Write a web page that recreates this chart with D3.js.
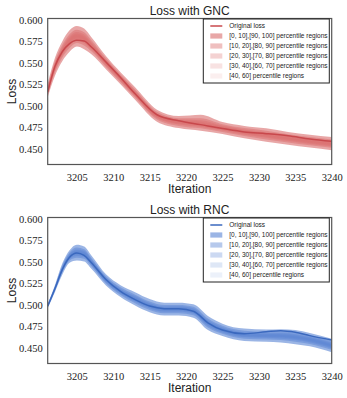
<!DOCTYPE html>
<html>
<head>
<meta charset="utf-8">
<script src="https://cdn.jsdelivr.net/npm/d3@7"></script>
<style>
  html, body { margin: 0; padding: 0; background: #fff; }
  svg { display: block; }
</style>
</head>
<body>
<div id="chart"></div>
<script>
// ---------------- data ----------------
const gncIter = [3201,3202,3203,3204,3205,3206,3207,3209,3211,3213,3216,3219,3222,3225,3228,3231,3234,3237,3240];
const gncLoss = [0.516,0.546,0.563,0.5725,0.5765,0.5755,0.5685,0.551,0.533,0.514,0.4895,0.4825,0.478,0.4735,0.4695,0.4675,0.465,0.4613,0.4585];
const gncP0   = [0.5100,0.5350,0.5520,0.5630,0.5690,0.5660,0.5600,0.5425,0.5250,0.5070,0.4815,0.4740,0.4710,0.4670,0.4620,0.4580,0.4545,0.4512,0.4482];
const gncP10  = [0.5129,0.5388,0.5561,0.5675,0.5733,0.5703,0.5636,0.5453,0.5275,0.5096,0.4840,0.4765,0.4737,0.4695,0.4646,0.4608,0.4572,0.4539,0.4509];
const gncP20  = [0.5146,0.5411,0.5587,0.5702,0.5760,0.5730,0.5658,0.5470,0.5291,0.5112,0.4856,0.4781,0.4753,0.4711,0.4662,0.4626,0.4588,0.4555,0.4526];
const gncP30  = [0.5159,0.5428,0.5605,0.5722,0.5779,0.5749,0.5674,0.5483,0.5302,0.5124,0.4867,0.4792,0.4765,0.4722,0.4674,0.4638,0.4600,0.4567,0.4538];
const gncP40  = [0.5170,0.5442,0.5621,0.5739,0.5795,0.5765,0.5687,0.5493,0.5311,0.5134,0.4876,0.4801,0.4776,0.4731,0.4684,0.4649,0.4611,0.4578,0.4548];
const gncP60  = [0.5190,0.5468,0.5649,0.5771,0.5825,0.5795,0.5713,0.5513,0.5329,0.5152,0.4894,0.4819,0.4799,0.4749,0.4702,0.4669,0.4629,0.4596,0.4568];
const gncP70  = [0.5201,0.5482,0.5665,0.5788,0.5841,0.5811,0.5726,0.5523,0.5338,0.5162,0.4903,0.4828,0.4814,0.4758,0.4712,0.4680,0.4640,0.4607,0.4578];
const gncP80  = [0.5214,0.5499,0.5683,0.5808,0.5860,0.5830,0.5742,0.5536,0.5349,0.5174,0.4914,0.4839,0.4831,0.4769,0.4724,0.4692,0.4652,0.4619,0.4590];
const gncP90  = [0.5231,0.5522,0.5709,0.5835,0.5887,0.5857,0.5764,0.5553,0.5365,0.5190,0.4930,0.4855,0.4855,0.4785,0.4740,0.4710,0.4668,0.4635,0.4607];
const gncP100 = [0.5260,0.5560,0.5750,0.5880,0.5930,0.5900,0.5800,0.5580,0.5390,0.5215,0.4955,0.4880,0.4895,0.4810,0.4765,0.4738,0.4695,0.4662,0.4635];

const rncIter = [3201,3202,3203,3204,3205,3206,3207,3209,3211,3213,3215,3217,3219,3221,3223,3225,3228,3231,3233,3235,3237,3240];
const rncLoss = [0.4985,0.519,0.541,0.5555,0.5605,0.5575,0.549,0.5295,0.5155,0.506,0.4985,0.4955,0.4953,0.4925,0.4790,0.4705,0.4662,0.4685,0.4698,0.468,0.464,0.4588];
const rncP0   = [0.4960,0.5150,0.5350,0.5490,0.5515,0.5505,0.5420,0.5225,0.5090,0.4991,0.4912,0.4875,0.4875,0.4850,0.4705,0.4635,0.4578,0.4570,0.4560,0.4540,0.4515,0.4445];
const rncP10  = [0.4969,0.5164,0.5373,0.5516,0.5548,0.5536,0.5448,0.5248,0.5115,0.5019,0.4940,0.4902,0.4902,0.4878,0.4735,0.4661,0.4604,0.4596,0.4588,0.4570,0.4543,0.4474];
const rncP20  = [0.4974,0.5173,0.5388,0.5532,0.5568,0.5556,0.5465,0.5263,0.5130,0.5036,0.4957,0.4918,0.4918,0.4895,0.4753,0.4677,0.4620,0.4611,0.4605,0.4588,0.4561,0.4491];
const rncP30  = [0.4978,0.5180,0.5398,0.5544,0.5583,0.5570,0.5477,0.5273,0.5141,0.5048,0.4969,0.4930,0.4930,0.4908,0.4766,0.4689,0.4631,0.4623,0.4618,0.4601,0.4573,0.4504];
const rncP40  = [0.4982,0.5185,0.5407,0.5553,0.5596,0.5581,0.5488,0.5282,0.5150,0.5059,0.4979,0.4940,0.4941,0.4918,0.4777,0.4698,0.4641,0.4632,0.4628,0.4612,0.4584,0.4515];
const rncP60  = [0.4988,0.5195,0.5423,0.5572,0.5619,0.5604,0.5507,0.5298,0.5168,0.5078,0.4999,0.4958,0.4959,0.4937,0.4798,0.4717,0.4659,0.4650,0.4647,0.4633,0.4603,0.4535];
const rncP70  = [0.4992,0.5200,0.5432,0.5581,0.5632,0.5615,0.5518,0.5307,0.5177,0.5089,0.5009,0.4968,0.4970,0.4948,0.4809,0.4726,0.4669,0.4659,0.4658,0.4644,0.4614,0.4546];
const rncP80  = [0.4996,0.5207,0.5442,0.5593,0.5646,0.5629,0.5530,0.5317,0.5188,0.5101,0.5021,0.4980,0.4982,0.4960,0.4822,0.4738,0.4680,0.4671,0.4670,0.4657,0.4626,0.4559];
const rncP90  = [0.5001,0.5216,0.5457,0.5609,0.5667,0.5649,0.5547,0.5332,0.5203,0.5118,0.5038,0.4996,0.4998,0.4978,0.4840,0.4754,0.4696,0.4686,0.4687,0.4675,0.4644,0.4576];
const rncP100 = [0.5010,0.5230,0.5480,0.5635,0.5700,0.5680,0.5575,0.5355,0.5228,0.5146,0.5066,0.5023,0.5025,0.5005,0.4870,0.4780,0.4722,0.4712,0.4715,0.4705,0.4672,0.4605];

const xTicks = [3205,3210,3215,3220,3225,3230,3235,3240];
const yTicks = [0.450,0.475,0.500,0.525,0.550,0.575,0.600];
const legendLabels = ["Original loss",
  "[0, 10],[90, 100] percentile regions",
  "[10, 20],[80, 90] percentile regions",
  "[20, 30],[70, 80] percentile regions",
  "[30, 40],[60, 70] percentile regions",
  "[40, 60] percentile regions"];
const regionAlpha = [0.55, 0.4, 0.28, 0.18, 0.1];

// ---------------- drawing ----------------
const W = 347, H = 398;
const svg = d3.select("#chart").append("svg").attr("width", W).attr("height", H);

const panels = [
  {title: "Loss with GNC", color: "#D65F5F", line: "#C8484C", top: 18.5, iter: gncIter, loss: gncLoss,
   lower: [gncP0, gncP10, gncP20, gncP30, gncP40], upper: [gncP100, gncP90, gncP80, gncP70, gncP60]},
  {title: "Loss with RNC", color: "#4878CF", line: "#3A68BE", top: 217.5, iter: rncIter, loss: rncLoss,
   lower: [rncP0, rncP10, rncP20, rncP30, rncP40], upper: [rncP100, rncP90, rncP80, rncP70, rncP60]}
];

const left = 47.7, right = 331.7, plotH = 146;
const x = d3.scaleLinear().domain([3201, 3240]).range([left, right]);

panels.forEach((p, pi) => {
  const bottom = p.top + plotH;
  const y = d3.scaleLinear().domain([0.4315, 0.6018]).range([bottom, p.top]);
  const g = svg.append("g");
  const clipId = "clip" + pi;
  svg.append("clipPath").attr("id", clipId).append("rect")
    .attr("x", left).attr("y", p.top).attr("width", right - left).attr("height", plotH);
  const plot = g.append("g").attr("clip-path", `url(#${clipId})`);

  const idx = d3.range(p.iter.length);
  const curve = d3.curveMonotoneX;
  const area = (a, b) => d3.area().curve(curve)
    .x(i => x(p.iter[i])).y0(i => y(a[i])).y1(i => y(b[i]));

  // nested percentile bands, outermost first
  for (let k = 0; k < 5; k++) {
    plot.append("path").attr("d", area(p.lower[k], p.upper[k])(idx))
      .attr("fill", p.color).attr("fill-opacity", regionAlpha[k]);
  }
  plot.append("path")
    .attr("d", d3.line().curve(curve).x(i => x(p.iter[i])).y(i => y(p.loss[i]))(idx))
    .attr("fill", "none").attr("stroke", p.line).attr("stroke-width", 1.5);

  // axes
  const xAxis = d3.axisBottom(x).tickValues(xTicks).tickSize(0).tickPadding(9).tickFormat(d3.format("d"));
  const yAxis = d3.axisLeft(y).tickValues(yTicks).tickSize(0).tickPadding(5).tickFormat(d3.format(".3f"));
  const gx = g.append("g").attr("transform", `translate(0,${bottom})`).call(xAxis);
  const gy = g.append("g").attr("transform", `translate(${left},0)`).call(yAxis);
  [gx, gy].forEach(a => {
    a.select(".domain").remove();
    a.selectAll("text").attr("font-family", "'Liberation Serif', 'DejaVu Serif', serif")
      .attr("font-size", 10.5).attr("fill", "#222");
  });

  // frame
  g.append("rect").attr("x", left).attr("y", p.top).attr("width", right - left).attr("height", plotH)
    .attr("fill", "none").attr("stroke", "#555").attr("stroke-width", 1.2);

  // titles
  g.append("text").attr("x", (left + right) / 2).attr("y", p.top - 3.5).attr("text-anchor", "middle")
    .attr("font-family", "'Liberation Sans', Arial, sans-serif").attr("font-size", 12).attr("fill", "#222")
    .text(p.title);
  g.append("text").attr("x", (left + right) / 2).attr("y", bottom + 28.5).attr("text-anchor", "middle")
    .attr("font-family", "'Liberation Sans', Arial, sans-serif").attr("font-size", 12).attr("fill", "#222")
    .text("Iteration");
  g.append("text").attr("transform", `translate(16,${(p.top + bottom) / 2}) rotate(-90)`)
    .attr("text-anchor", "middle")
    .attr("font-family", "'Liberation Sans', Arial, sans-serif").attr("font-size", 12).attr("fill", "#222")
    .text("Loss");

  // legend
  const lg = g.append("g").attr("transform", `translate(203.3,${p.top + 0.5})`);
  lg.append("rect").attr("x", 0).attr("y", 0).attr("width", 126).attr("height", 64)
    .attr("fill", "#fff").attr("stroke", "#222").attr("stroke-width", 1);
  legendLabels.forEach((lab, i) => {
    const cy = 7 + i * 10;
    if (i === 0) {
      lg.append("line").attr("x1", 7).attr("x2", 19).attr("y1", cy).attr("y2", cy)
        .attr("stroke", p.line).attr("stroke-width", 1.5);
    } else {
      lg.append("rect").attr("x", 7).attr("y", cy - 2.6).attr("width", 12).attr("height", 5.2)
        .attr("fill", p.color).attr("fill-opacity", regionAlpha[i - 1]);
    }
    lg.append("text").attr("x", 26).attr("y", cy + 2.2)
      .attr("font-family", "'Liberation Sans', Arial, sans-serif").attr("font-size", 6.5).attr("fill", "#222")
      .text(lab);
  });
});
</script>
</body>
</html>
